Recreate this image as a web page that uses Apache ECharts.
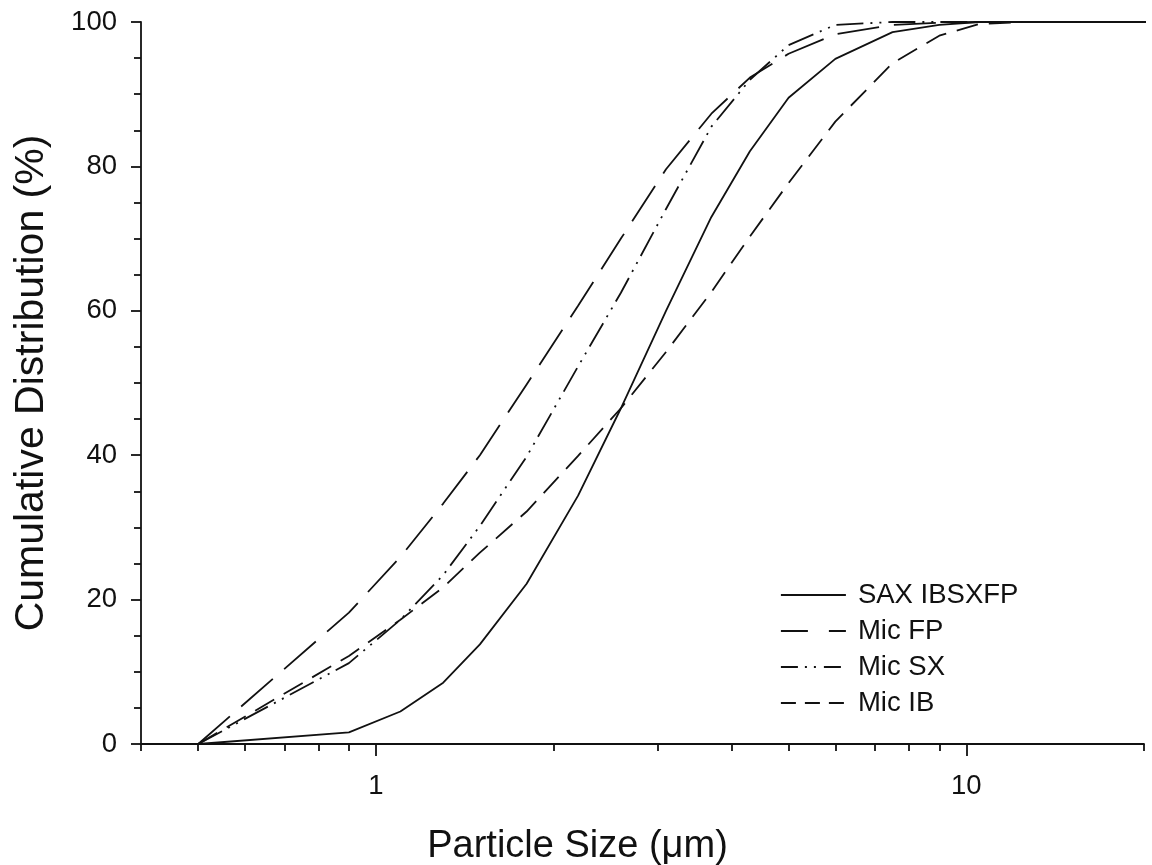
<!DOCTYPE html>
<html>
<head>
<meta charset="utf-8">
<script src="https://cdn.jsdelivr.net/npm/echarts@6/dist/echarts.min.js"></script>
<style>
html,body{margin:0;padding:0;background:#fff;}
#c{width:1152px;height:865px;}
</style>
</head>
<body>
<div id="c"></div>
<script>
// Particle size grid (µm)
const sizes = [0.5, 0.9, 1.1, 1.3, 1.5, 1.8, 2.2, 2.6, 3.1, 3.7, 4.3, 5.0, 6.0, 7.5, 9.0, 10.5, 12.5, 15, 18, 21];
// Cumulative distributions (%)
const saxIBSXFP = [0, 1.6, 4.5, 8.5, 13.8, 22.2, 34.4, 46.5, 60.0, 73.0, 82.1, 89.5, 94.9, 98.6, 99.6, 100, 100, 100, 100, 100];
const micFP     = [0, 18.2, 25.9, 33.3, 40.0, 49.8, 60.7, 70.0, 79.6, 87.3, 92.3, 95.6, 98.3, 99.6, 99.9, 100, 100, 100, 100, 100];
const micSX     = [0, 11.2, 17.2, 23.4, 30.2, 39.8, 52.3, 62.5, 74.1, 85.5, 92.0, 96.8, 99.6, 100, 100, 100, 100, 100, 100, 100];
const micIB     = [0, 12.2, 17.2, 21.7, 26.5, 32.2, 39.9, 46.5, 54.3, 62.6, 70.3, 77.7, 86.2, 94.3, 98.1, 99.7, 100, 100, 100, 100];
const seriesNames = ['SAX IBSXFP', 'Mic FP', 'Mic SX', 'Mic IB'];
const xMajorTicks = [1, 10];
const xMinorTicks = [0.4, 0.5, 0.6, 0.7, 0.8, 0.9, 2, 3, 4, 5, 6, 7, 8, 9, 20];

const font = 'Arial, "Liberation Sans", Helvetica, sans-serif';
const ink = '#111';
const lw = 1.8;
const dashes = ['solid', [42, 15], [27, 7, 2, 7, 2, 7], [22, 11]];
const legendDashes = ['solid', [27, 21], [17, 7, 2, 7, 2, 8], [15, 9]];
const allData = [saxIBSXFP, micFP, micSX, micIB];

const chart = echarts.init(document.getElementById('c'), null, {renderer: 'canvas'});
const series = seriesNames.map((n, i) => ({
  name: n,
  type: 'line',
  xAxisIndex: 0,
  symbol: 'none',
  smooth: false,
  clip: true,
  lineStyle: {color: ink, width: lw, type: dashes[i]},
  itemStyle: {color: ink},
  data: sizes.map((s, k) => [s, allData[i][k]])
}));

chart.setOption({
  animation: false,
  backgroundColor: '#fff',
  grid: {left: 141, right: 8, top: 22, bottom: 121, containLabel: false, outerBoundsMode: 'none'},
  legend: {
    orient: 'vertical',
    left: 780,
    top: 581,
    padding: 0,
    itemWidth: 65,
    itemHeight: 28,
    itemGap: 8,
    itemStyle: {opacity: 0, borderWidth: 0},
    textStyle: {fontFamily: font, fontSize: 27.5, color: ink, lineHeight: 28, padding: [0, 0, 0, 7]},
    data: seriesNames.map((n, i) => ({
      name: n,
      itemStyle: {opacity: 0, borderWidth: 0},
      lineStyle: {type: legendDashes[i], width: lw, color: ink}
    }))
  },
  xAxis: [{
    type: 'log',
    logBase: 10,
    min: 0.4,
    max: 20,
    name: 'Particle Size (\u03bcm)',
    nameLocation: 'middle',
    nameGap: 84,
    nameTextStyle: {fontFamily: font, fontSize: 38, color: ink, padding: [0, 130, 0, 0]},
    axisLine: {show: true, lineStyle: {color: ink, width: lw}},
    axisTick: {show: true, inside: false, length: 12, lineStyle: {color: ink, width: lw}, customValues: xMajorTicks},
    axisLabel: {show: true, customValues: xMajorTicks, margin: 28, fontFamily: font, fontSize: 27.5, color: ink, formatter: v => String(v)},
    splitLine: {show: false},
    minorTick: {show: false}
  }, {
    type: 'log',
    logBase: 10,
    min: 0.4,
    max: 20,
    position: 'bottom',
    axisLine: {show: false},
    axisTick: {show: true, inside: false, length: 7, lineStyle: {color: ink, width: lw}, customValues: xMinorTicks},
    axisLabel: {show: false},
    splitLine: {show: false}
  }],
  yAxis: {
    type: 'value',
    min: 0,
    max: 100,
    interval: 20,
    name: 'Cumulative Distribution (%)',
    nameLocation: 'middle',
    nameGap: 89,
    nameRotate: 90,
    nameTextStyle: {fontFamily: font, fontSize: 41, color: ink},
    axisLine: {show: true, lineStyle: {color: ink, width: lw}},
    axisTick: {show: true, inside: false, length: 10, lineStyle: {color: ink, width: lw}},
    minorTick: {show: true, splitNumber: 4, length: 7, lineStyle: {color: ink, width: lw}},
    axisLabel: {margin: 24, fontFamily: font, fontSize: 27.5, color: ink},
    splitLine: {show: false}
  },
  series: series
});
</script>
</body>
</html>
